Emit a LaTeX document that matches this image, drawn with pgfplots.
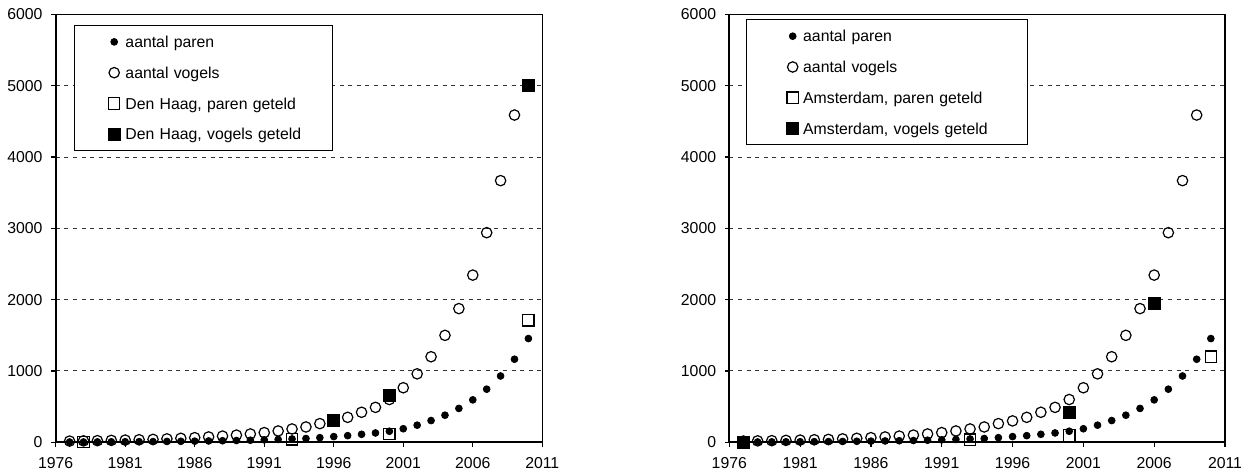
\documentclass[border=0pt]{standalone}
\usepackage{fontspec}
\setmainfont{Liberation Sans}
\usepackage{pgfplots}
\pgfplotsset{compat=1.18}
\begin{document}
\begin{tikzpicture}
\pgfplotsset{
  myaxis/.style={
    scale only axis,
    height=213.9pt,
    xmin=1976, xmax=2011,
    ymin=0, ymax=6000,
    xtick={1976,1981,...,2011},
    ytick={0,1000,...,6000},
    /pgf/number format/assume math mode=true,
    /pgf/number format/1000 sep={},
    tick label style={font=\fontsize{7.9}{9}\selectfont, inner sep=0pt},
    yticklabel style={xshift=-4.2pt},
    xticklabel style={yshift=-5.3pt},
    tick align=outside,
    major tick length=2.2pt,
    xtick pos=bottom, ytick pos=left,
    tick style={black, line width=0.6pt},
    axis line style={line width=0.6pt, black},
    ymajorgrids,
    major grid style={black!80, line width=0.5pt, dash pattern=on 2pt off 2.3pt},
    clip=false,
    legend cell align=left,
    legend style={draw=black, line width=0.5pt, fill=white, inner xsep=0pt, inner ysep=0.5pt, row sep=0pt, anchor=north west, font=\fontsize{7.9}{9}\selectfont, nodes={inner sep=0pt, text height=10.55pt, text depth=4.85pt, align=left}},
  },
  paren/.style={only marks, mark=*, mark size=1.7pt, mark options={fill=black, draw=black, line width=0.4pt}},
  vogels/.style={only marks, mark=o, mark size=2.6pt, mark options={draw=black, line width=0.6pt}},
  pgeteld/.style={only marks, mark=square, mark size=2.85pt, mark options={draw=black, line width=0.6pt}},
  vgeteld/.style={only marks, mark=square*, mark size=3pt, mark options={fill=black, draw=black, line width=0.3pt}},
}
\path[use as bounding box] (0,0) rectangle (624pt,237.5pt);

% ---------------- Den Haag ----------------
\begin{axis}[myaxis, width=243.3pt, at={(27.85pt,16.35pt)}, anchor=south west,
  legend style={at={(0.0376,0.9755)}, nodes={text width=103.5pt}},
  legend image code/.code={\path (0pt,0pt) (25pt,0pt); \draw[#1] plot coordinates {(19.6pt,0pt)};},
]
\addplot[paren] coordinates {
(1977,4) (1978,5) (1979,6) (1980,7) (1981,8) (1982,9) (1983,10) (1984,12) (1985,14)
(1986,16) (1987,19) (1988,22) (1989,25) (1990,29) (1991,34) (1992,40) (1993,47)
(1994,53) (1995,65) (1996,80) (1997,93) (1998,112) (1999,131) (2000,155) (2001,190)
(2002,240) (2003,305) (2004,380) (2005,475) (2006,595) (2007,745) (2008,930)
(2009,1165) (2010,1455)};
\addlegendentry{aantal paren}
\addplot[vogels] coordinates {
(1977,17) (1978,20) (1979,23) (1980,27) (1981,31) (1982,36) (1983,41) (1984,48)
(1985,56) (1986,65) (1987,75) (1988,87) (1989,101) (1990,117) (1991,136) (1992,159)
(1993,187) (1994,215) (1995,262) (1996,300) (1997,350) (1998,421) (1999,490)
(2000,600) (2001,765) (2002,960) (2003,1200) (2004,1500) (2005,1875) (2006,2345)
(2007,2940) (2008,3670) (2009,4590)};
\addlegendentry{aantal vogels}
\addplot[pgeteld] coordinates {(1978,5) (1993,42) (2000,115) (2010,1710)};
\addlegendentry{Den Haag, paren geteld}
\addplot[vgeteld] coordinates {(1996,305) (2000,663) (2010,5000)};
\addlegendentry{Den Haag, vogels geteld}
\draw[line width=0.9pt] (rel axis cs:0,1) -- (rel axis cs:0,0) -- (rel axis cs:1,0);
\end{axis}

% ---------------- Amsterdam ----------------
\begin{axis}[myaxis, width=247.85pt, at={(364.65pt,16.35pt)}, anchor=south west,
  legend style={at={(0.0331,0.9888)}, nodes={text width=112.15pt}},
  legend image code/.code={\path (0pt,0pt) (28pt,0pt); \draw[#1] plot coordinates {(23pt,0pt)};},
]
\addplot[paren] coordinates {
(1977,4) (1978,5) (1979,6) (1980,7) (1981,8) (1982,9) (1983,10) (1984,12) (1985,14)
(1986,16) (1987,19) (1988,22) (1989,25) (1990,29) (1991,34) (1992,40) (1993,47)
(1994,53) (1995,65) (1996,80) (1997,93) (1998,112) (1999,131) (2000,155) (2001,190)
(2002,240) (2003,305) (2004,380) (2005,475) (2006,595) (2007,745) (2008,930)
(2009,1165) (2010,1455)};
\addlegendentry{aantal paren}
\addplot[vogels] coordinates {
(1977,17) (1978,20) (1979,23) (1980,27) (1981,31) (1982,36) (1983,41) (1984,48)
(1985,56) (1986,65) (1987,75) (1988,87) (1989,101) (1990,117) (1991,136) (1992,159)
(1993,187) (1994,215) (1995,262) (1996,300) (1997,350) (1998,421) (1999,490)
(2000,600) (2001,765) (2002,960) (2003,1200) (2004,1500) (2005,1875) (2006,2345)
(2007,2940) (2008,3670) (2009,4590)};
\addlegendentry{aantal vogels}
\addplot[pgeteld] coordinates {(1993,37) (2000,95) (2010,1200)};
\addlegendentry{Amsterdam, paren geteld}
\addplot[vgeteld] coordinates {(1977,0) (2000,425) (2006,1944)};
\addlegendentry{Amsterdam, vogels geteld}
\draw[line width=0.9pt] (rel axis cs:0,1) -- (rel axis cs:0,0) -- (rel axis cs:1,0);
\end{axis}
\end{tikzpicture}
\end{document}
